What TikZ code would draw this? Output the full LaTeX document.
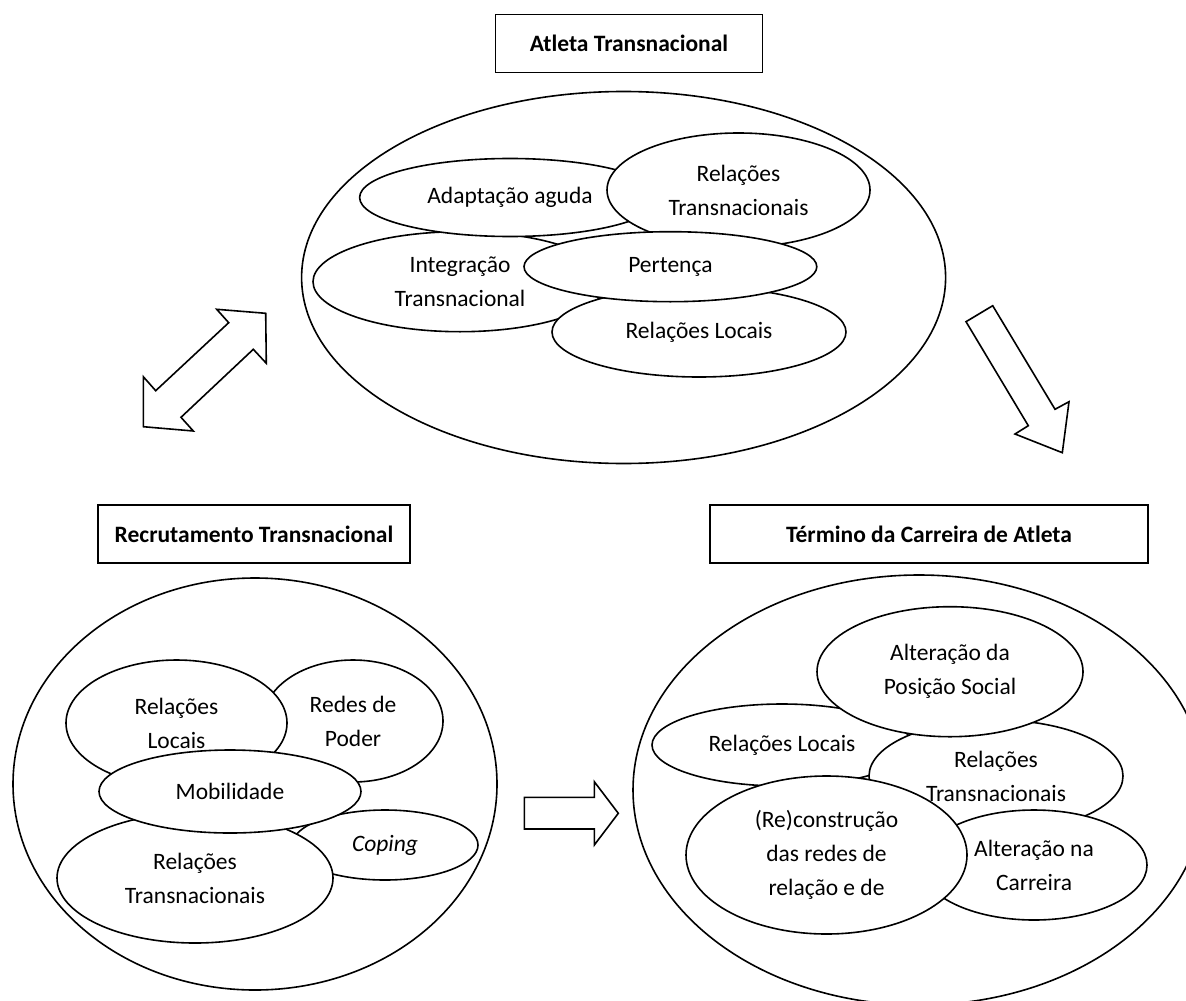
\documentclass[tikz,border=0pt]{standalone}
\usepackage{fontspec}
\setmainfont{Carlito}
\usepackage{tikz}
\usetikzlibrary{shapes.geometric}

\begin{document}
\begin{tikzpicture}[x=0.5pt,y=-0.5pt,line width=0.8pt,
    every node/.style={font=\fontsize{11.75}{17}\selectfont},
    oval/.style={ellipse,draw,fill=white,inner sep=0pt,align=center},
    title/.style={rectangle,draw,fill=white,inner sep=0pt,minimum height=29pt,font=\fontsize{11.75}{17}\selectfont\bfseries},
    blockarrow/.style={draw,fill=white,line join=miter}] %
    \useasboundingbox (0,0) rectangle (1186,1000);
    \clip (0,0) rectangle (1186,1000);
    % titles
    \node[title,minimum width=133.5pt] (atleta) at (629,43.7) {Atleta Transnacional} ; %
    \node[title,minimum width=156pt] (recrut) at (254,534) {Recrutamento Transnacional} ; %
    \node[title,minimum width=219pt] (termino) at (929,534) {Término da Carreira de Atleta} ; %
    % Atleta Transnacional
    \node[oval,minimum width=322pt,minimum height=186pt] (atletaset) at (623.6,277.5) {} ;
    \node[oval,minimum width=147pt,minimum height=50pt] (integ) at (460,281.7) {Integração\\Transnacional} ;
    \node[oval,minimum width=150.4pt,minimum height=39pt] (adapt) at (510,197.5) {Adaptação aguda} ;
    \node[oval,minimum width=131.5pt,minimum height=57pt] (reltrans) at (738.5,190) {Relações\\Transnacionais} ;
    \node[oval,minimum width=147pt,minimum height=45pt] (rellocal) at (699,332) {Relações Locais} ;
    \node[oval,minimum width=146.4pt,minimum height=35pt] (pertenca) at (670.4,266.7) {Pertença} ;
    % Recrutamento Transnacional
    \node[oval,minimum width=242pt,minimum height=206pt] (recrutset) at (255,784) {} ;
    \node[oval,minimum width=90pt,minimum height=61pt] (redes) at (353,721) {Redes de\\Poder} ;
    \node[oval,minimum width=110.5pt,minimum height=63pt] (rellocalb) at (176.5,723) {Relações\\Locais} ;
    \node[oval,minimum width=93pt,minimum height=35pt] (coping) at (385,845) {\textit{Coping}} ;
    \node[oval,minimum width=138pt,minimum height=65pt] (reltransb) at (195,878) {Relações\\Transnacionais} ;
    \node[oval,minimum width=131pt,minimum height=41.5pt] (mobil) at (230,791.5) {Mobilidade} ;
    % Termino da Carreira
    \node[oval,minimum width=286pt,minimum height=215pt] (terminoset) at (919,790) {} ;
    \node[oval,minimum width=130pt,minimum height=41pt] (rellocalc) at (782,745) {Relações Locais} ;
    \node[oval,minimum width=127pt,minimum height=56pt] (reltransc) at (996,776) {Relações\\Transnacionais} ;
    \node[oval,minimum width=133pt,minimum height=65pt] (posicao) at (950,671.7) {Alteração da\\Posição Social} ;
    \node[oval,minimum width=113pt,minimum height=55pt] (carreira) at (1034,865) {Alteração na\\Carreira} ;
    \node[oval,minimum width=140.5pt,minimum height=79pt] (reconst) at (826.5,855) {(Re)construção\\das redes de\\relação e de} ;
    % block arrows
    \draw[blockarrow] (216.7,309.3) -- (265.7,313.3) -- (266.3,363.3) -- (253.3,349.3) -- (181,417.3) -- (193.3,431)
      -- (143.3,426.7) -- (143.3,376.7) -- (155.7,390.7) -- (228.7,322.7) -- cycle ; %
    \draw[blockarrow] (966,321.7) -- (992.7,305.7) -- (1055,409.3) -- (1069,401.7) -- (1062.3,452.7) -- (1015,434)
      -- (1028.3,425.7) -- cycle ; %
    \draw[blockarrow] (524.3,797.3) -- (594.3,797.3) -- (594.3,781.7) -- (618.3,813.3) -- (594.3,845) -- (594.3,829)
      -- (524.3,829) -- cycle ; %
\end{tikzpicture}
\end{document}
